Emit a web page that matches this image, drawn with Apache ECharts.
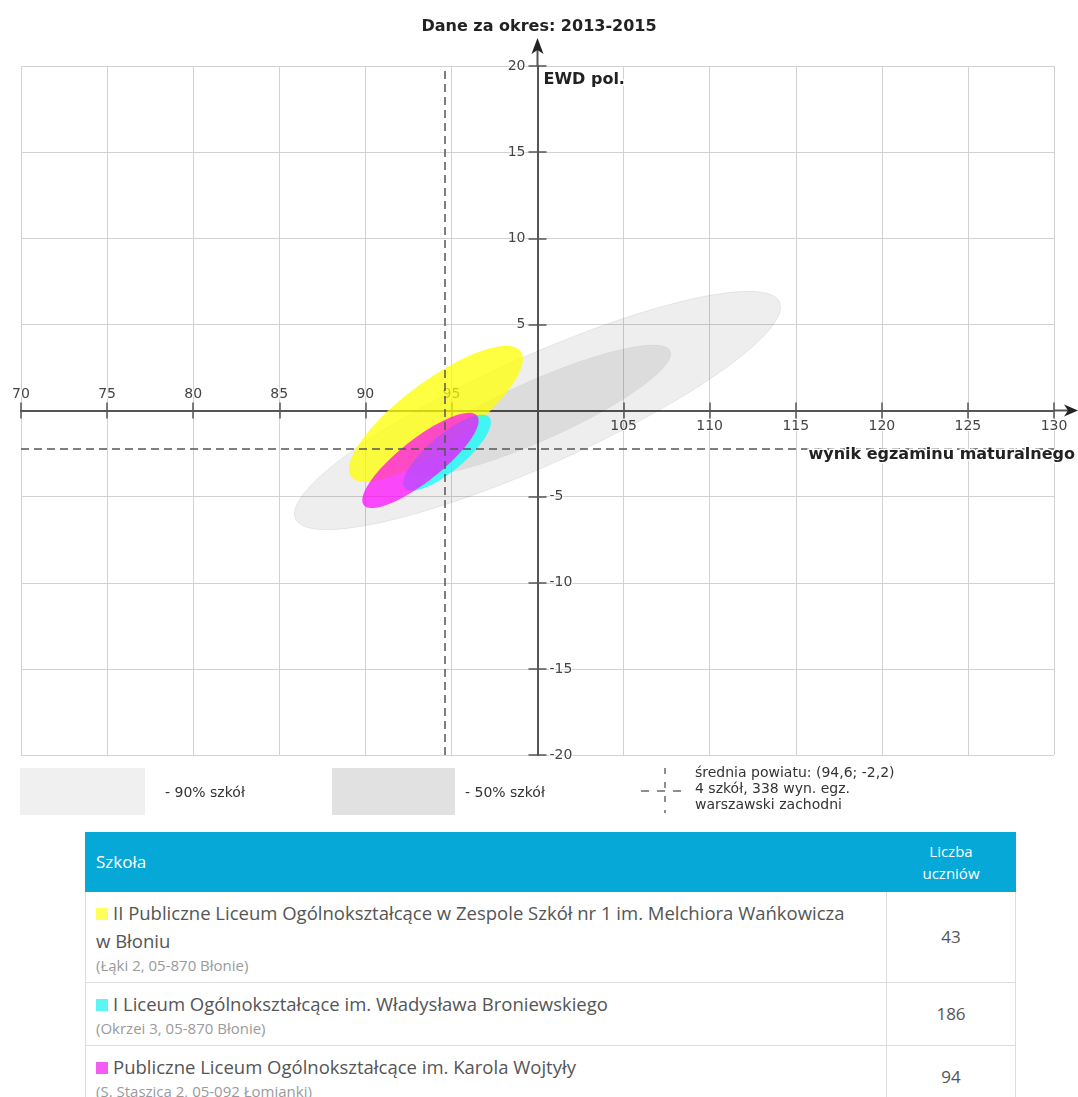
<!DOCTYPE html>
<html>
<head>
<meta charset="utf-8">
<script src="https://cdn.jsdelivr.net/npm/echarts@6.0.0/dist/echarts.min.js"></script>
<style>
  html, body { margin: 0; padding: 0; background: #ffffff; }
  #chart { position: absolute; left: 0; top: 0; width: 1078px; height: 830px; }
  #tbl { position: absolute; left: 85px; top: 832px; width: 931px; border-collapse: collapse;
         font-family: 'Open Sans', sans-serif; table-layout: fixed; }
  #tbl th { background: #05a8d7; color: #ffffff; font-weight: normal; font-size: 17px;
            line-height: 22px; height: 58px; padding: 0 10px; text-align: left; border: 1px solid #05a8d7; }
  #tbl th.num { text-align: center; width: 108px; border-left: 1px solid #ffffff; font-size: 15px; }
  #tbl td { border: 1px solid #dddddd; padding: 7px 10px; color: #555555; font-size: 18.5px; line-height: 28px;
            vertical-align: middle; }
  #tbl td.num { text-align: center; font-size: 17px; }
  #tbl .addr { display: block; font-size: 15px; line-height: 20px; color: #9a9a9a; }
  #tbl .sq { display: inline-block; width: 12px; height: 12px; margin-right: 5px; vertical-align: 0px; }
</style>
</head>
<body>
<div id="chart"></div>
<table id="tbl"></table>
<script>
// ---------- data ----------
const chartTitle = 'Dane za okres: 2013-2015';
const xAxisName = 'wynik egzaminu maturalnego';
const yAxisName = 'EWD pol.';
const xMin = 70, xMax = 130, xStep = 5, xCross = 100;
const yMin = -20, yMax = 20, yStep = 5, yCross = 0;

const bandLabels = ['- 90% szkół', '- 50% szkół'];
const bandCenterX = [100, 100];
const bandCenterY = [0, 0];
const bandSemiMajor = [15.4, 8.45];
const bandSemiMinor = [3.16, 1.74];
const bandAngleDeg = [24.1, 24.1];

const schoolNames = [
  'II Publiczne Liceum Ogólnokształcące w Zespole Szkół nr 1 im. Melchiora Wańkowicza w Błoniu',
  'I Liceum Ogólnokształcące im. Władysława Broniewskiego',
  'Publiczne Liceum Ogólnokształcące im. Karola Wojtyły'
];
const schoolAddresses = ['(Łąki 2, 05-870 Błonie)', '(Okrzei 3, 05-870 Błonie)', '(S. Staszica 2, 05-092 Łomianki)'];
const schoolStudents = [43, 186, 94];
const schoolCenterX = [94.1, 94.75, 93.2];
const schoolCenterY = [-0.2, -2.45, -2.9];
const schoolSemiMajor = [6.12, 3.2, 4.19];
const schoolSemiMinor = [1.92, 1.05, 1.23];
const schoolAngleDeg = [36.5, 40, 38.2];

const meanX = 94.6, meanY = -2.2;
const schoolCount = 4, resultCount = 338;
const powiatName = 'warszawski zachodni';
const tableHeaders = ['Szkoła', 'Liczba<br>uczniów'];

// ---------- styles ----------
const bandFill = ['rgba(0,0,0,0.065)', 'rgba(0,0,0,0.075)'];
const bandLegendFill = ['#f0f0f0', '#e1e1e1'];
const schoolFill = ['rgba(255,255,0,0.74)', 'rgba(0,255,255,0.7)', 'rgba(255,0,255,0.7)'];
const schoolSquare = ['#ffff5c', '#5cf5f5', '#f55cf5'];
const FONT = 'DejaVu Sans';

// ---------- table ----------
(function buildTable() {
  const t = document.getElementById('tbl');
  let h = '<tr><th>' + tableHeaders[0] + '</th><th class="num">' + tableHeaders[1] + '</th></tr>';
  schoolNames.forEach((n, i) => {
    h += '<tr><td class="name"><span class="sq" style="background:' + schoolSquare[i] + '"></span>' + n +
         '<span class="addr">' + schoolAddresses[i] + '</span></td><td class="num">' + schoolStudents[i] + '</td></tr>';
  });
  t.innerHTML = h;
  // column width so that the first name wraps before its last two words (as in the original page)
  const ctx = document.createElement('canvas').getContext('2d');
  ctx.font = '18.5px "Open Sans"';
  const words = schoolNames[0].split(' ');
  const firstLine = words.slice(0, words.length - 2).join(' ');
  const contentW = Math.ceil(ctx.measureText(firstLine).width + 17 + 5);
  const colW = 931 - 129; // first column box width
  const padR = Math.max(10, colW - 10 - contentW - 1);
  document.querySelectorAll('#tbl td.name').forEach(td => { td.style.paddingRight = padR + 'px'; });
})();

// ---------- chart ----------
const chart = echarts.init(document.getElementById('chart'), null, { renderer: 'canvas' });
const chartW = 1078, chartH = 830;
const gridLeft = 21, gridRight = 24, gridTop = 66, gridBottom = 75;
const gridW = chartW - gridLeft - gridRight;
const gridH = chartH - gridTop - gridBottom;
const yAxisPx = gridLeft + (xCross - xMin) / (xMax - xMin) * gridW;
const xAxisPx = gridTop + (yMax - yCross) / (yMax - yMin) * gridH;

const bandData = bandCenterX.map((cx, i) => [cx, bandCenterY[i], bandSemiMajor[i], bandSemiMinor[i], bandAngleDeg[i]]);
const schoolData = schoolCenterX.map((cx, i) => [cx, schoolCenterY[i], schoolSemiMajor[i], schoolSemiMinor[i], schoolAngleDeg[i]]);

function ellipseRenderer(fills, strokes) {
  return function (params, api) {
    const cx = api.value(0), cy = api.value(1), a = api.value(2), b = api.value(3);
    const ang = api.value(4) * Math.PI / 180;
    const pts = [];
    const N = 120;
    for (let k = 0; k < N; k++) {
      const t = 2 * Math.PI * k / N;
      const dx = a * Math.cos(t), dy = b * Math.sin(t);
      pts.push(api.coord([cx + dx * Math.cos(ang) - dy * Math.sin(ang), cy + dx * Math.sin(ang) + dy * Math.cos(ang)]));
    }
    return {
      type: 'polygon',
      shape: { points: pts },
      style: { fill: fills[params.dataIndex], stroke: strokes ? strokes[params.dataIndex] : null, lineWidth: 1 }
    };
  };
}

const labelStyle = { fontFamily: FONT, fontSize: 14, color: '#444', textBorderColor: '#fff', textBorderWidth: 2 };
const axisLineStyle = { color: '#555', width: 2 };
const tickStyle = { color: '#555', width: 1.5 };

function xAx(position, offset, cond, split) {
  return {
    type: 'value', position: position, offset: offset, min: xMin, max: xMax, interval: xStep,
    axisLine: { show: true, onZero: false, lineStyle: axisLineStyle },
    axisTick: { show: true, length: 8, lineStyle: tickStyle },
    axisLabel: Object.assign({ show: true, margin: 9, formatter: v => cond(v) ? String(v) : '' }, labelStyle),
    splitLine: { show: split, lineStyle: { color: '#d2d2d2', width: 1 } }
  };
}
function yAx(position, offset, cond, split) {
  return {
    type: 'value', position: position, offset: offset, min: yMin, max: yMax, interval: yStep,
    axisLine: { show: true, onZero: false, lineStyle: axisLineStyle },
    axisTick: { show: true, length: 9, lineStyle: tickStyle },
    axisLabel: Object.assign({ show: true, margin: 12, formatter: v => cond(v) ? String(v) : '' }, labelStyle),
    splitLine: { show: split, lineStyle: { color: '#d2d2d2', width: 1 } }
  };
}

const option = {
  animation: false,
  backgroundColor: '#ffffff',
  title: {
    text: chartTitle, left: 'center', top: 14,
    textStyle: { fontFamily: FONT, fontSize: 16, fontWeight: 'bold', color: '#222' }
  },
  grid: { left: gridLeft, right: gridRight, top: gridTop, bottom: gridBottom, containLabel: false, outerBoundsMode: 'none' },
  xAxis: [
    xAx('top', -(xAxisPx - gridTop), v => v < xCross, true),
    xAx('bottom', -(gridTop + gridH - xAxisPx), v => v > xCross, false)
  ],
  yAxis: [
    yAx('left', -(yAxisPx - gridLeft), v => v > yCross, true),
    yAx('right', -(gridLeft + gridW - yAxisPx), v => v < yCross, false)
  ],
  series: [
    {
      type: 'custom', name: 'bands', xAxisIndex: 0, yAxisIndex: 0, silent: true,
      dimensions: ['cx', 'cy', 'a', 'b', 'angle'], encode: { x: 0, y: 1 },
      data: bandData,
      renderItem: ellipseRenderer(bandFill, ['rgba(0,0,0,0.07)', 'rgba(0,0,0,0.03)']),
      markLine: {
        silent: true, symbol: ['none', 'none'], label: { show: false },
        lineStyle: { type: [8, 5], color: '#555', width: 1.5 },
        data: [{ xAxis: meanX }, { yAxis: meanY }]
      }
    },
    {
      type: 'custom', name: 'schools', xAxisIndex: 0, yAxisIndex: 0, silent: true,
      dimensions: ['cx', 'cy', 'a', 'b', 'angle'], encode: { x: 0, y: 1 },
      data: schoolData,
      renderItem: ellipseRenderer(schoolFill, null)
    }
  ]
};
chart.setOption(option);

// ---------- decorations positioned through the axes ----------
const pTop = chart.convertToPixel({ xAxisIndex: 0, yAxisIndex: 0 }, [xCross, yMax]);
const pRight = chart.convertToPixel({ xAxisIndex: 0, yAxisIndex: 0 }, [xMax, yCross]);
const fmt = v => String(v).replace('.', ',');
const legendTextStyle = { fontFamily: FONT, fontSize: 14, fill: '#333' };
const mid = { verticalAlign: 'middle', textVerticalAlign: 'middle' };

chart.setOption({
  graphic: [
    { type: 'line', shape: { x1: pTop[0], y1: pTop[1], x2: pTop[0], y2: pTop[1] - 22 }, style: { stroke: '#555', lineWidth: 2 }, z: 5 },
    { type: 'polygon', shape: { points: [[pTop[0], pTop[1] - 28], [pTop[0] + 6, pTop[1] - 12], [pTop[0], pTop[1] - 16], [pTop[0] - 6, pTop[1] - 12]] }, style: { fill: '#222' }, z: 5 },
    { type: 'line', shape: { x1: pRight[0], y1: pRight[1], x2: pRight[0] + 18, y2: pRight[1] }, style: { stroke: '#555', lineWidth: 2 }, z: 5 },
    { type: 'polygon', shape: { points: [[pRight[0] + 24, pRight[1]], [pRight[0] + 10, pRight[1] - 6], [pRight[0] + 14, pRight[1]], [pRight[0] + 10, pRight[1] + 6]] }, style: { fill: '#222' }, z: 5 },
    { type: 'text', x: pTop[0] + 6, y: pTop[1] + 14, z: 6,
      style: Object.assign({ text: yAxisName, fontFamily: FONT, fontSize: 16, fontWeight: 'bold', fill: '#222', stroke: '#fff', lineWidth: 3 }, mid) },
    { type: 'text', x: pRight[0] + 21, y: pRight[1] + 44, z: 6,
      style: Object.assign({ text: xAxisName, fontFamily: FONT, fontSize: 16, fontWeight: 'bold', fill: '#222', align: 'right', textAlign: 'right', stroke: '#fff', lineWidth: 3 }, mid) },
    // legend
    { type: 'rect', shape: { x: 20, y: 768, width: 125, height: 47 }, style: { fill: bandLegendFill[0] } },
    { type: 'text', x: 165, y: 793, style: Object.assign({ text: bandLabels[0] }, legendTextStyle, mid) },
    { type: 'rect', shape: { x: 332, y: 768, width: 123, height: 47 }, style: { fill: bandLegendFill[1] } },
    { type: 'text', x: 465, y: 793, style: Object.assign({ text: bandLabels[1] }, legendTextStyle, mid) },
    { type: 'line', shape: { x1: 665, y1: 768, x2: 665, y2: 813 }, style: { stroke: '#444', lineWidth: 1.2, lineDash: [6, 8] } },
    { type: 'line', shape: { x1: 641, y1: 791, x2: 689, y2: 791 }, style: { stroke: '#444', lineWidth: 1.2, lineDash: [8, 8] } },
    { type: 'text', x: 695, y: 773, style: Object.assign({ text: 'średnia powiatu: (' + fmt(meanX) + '; ' + fmt(meanY) + ')' }, legendTextStyle, mid) },
    { type: 'text', x: 695, y: 789, style: Object.assign({ text: schoolCount + ' szkół, ' + resultCount + ' wyn. egz.' }, legendTextStyle, mid) },
    { type: 'text', x: 695, y: 805, style: Object.assign({ text: powiatName }, legendTextStyle, mid) }
  ]
});
</script>
</body>
</html>
